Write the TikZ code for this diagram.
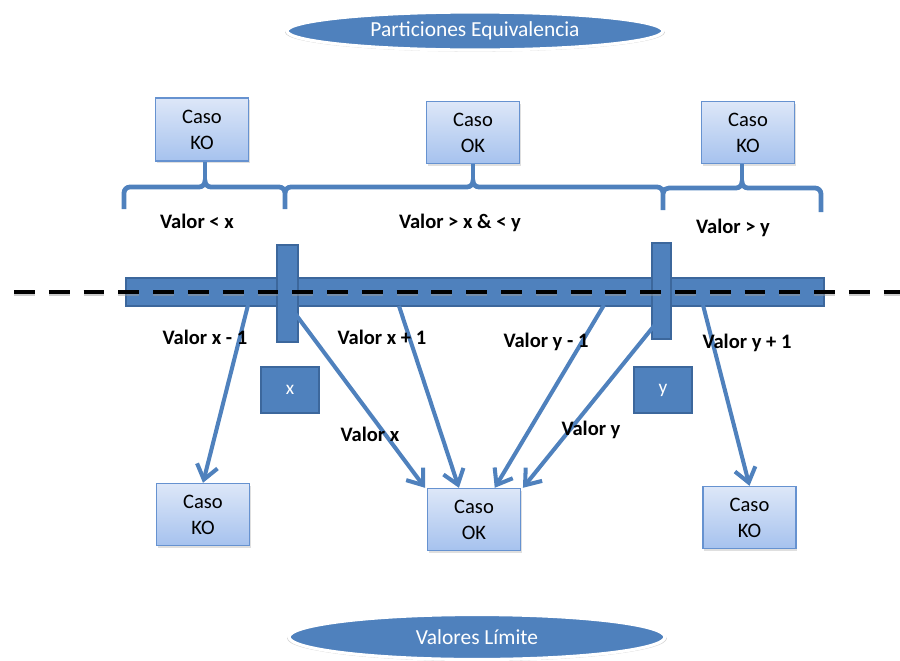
\documentclass[tikz,border=0pt]{standalone}
\usepackage{fontspec}
\setmainfont{Carlito}
\usetikzlibrary{arrows.meta,shapes.geometric,shadows,calc}
\definecolor{accent}{HTML}{4F81BD}
\definecolor{accentdark}{HTML}{3C679C}
\definecolor{boxtop}{HTML}{DDE7F8}
\definecolor{boxbot}{HTML}{A6C2EE}
\definecolor{boxline}{HTML}{6692D0}

\begin{document}
\begin{tikzpicture}[x=0.02cm,y=-0.02cm,
  casebox/.style={draw=boxline, line width=0.8pt, top color=boxtop, bottom color=boxbot,
    minimum width=1.86cm, minimum height=1.24cm, inner sep=0pt, align=center,
    font=\fontsize{11.7}{14.7}\selectfont,
    drop shadow={opacity=0.25, shadow xshift=0.8pt, shadow yshift=-1.2pt}},
  titleoval/.style={ellipse, fill=accent, draw=white, line width=1.8pt, inner sep=0pt,
    minimum width=7.52cm, text=white, font=\fontsize{12.2}{14}\selectfont,
    drop shadow={opacity=0.35, shadow xshift=0pt, shadow yshift=-0.8pt, shadow scale=1.01}},
  bar/.style={fill=accent, draw=accentdark, line width=0.9pt, inner sep=0pt},
  markbox/.style={fill=accent, draw=accentdark, line width=0.9pt, inner sep=0pt,
    minimum width=1.16cm, minimum height=0.92cm, text=white, font=\fontsize{11}{13}\selectfont},
  tag/.style={font=\fontsize{11.7}{14}\selectfont\bfseries, inner sep=0pt},
  partline/.style={draw=accent, line width=2.7pt},
  link/.style={draw=accent, line width=2.3pt, -{Straight Barb[length=8pt,width=12pt]}}
]
\useasboundingbox (0,0) rectangle (900,660);

% headline ovals
\node[titleoval, minimum height=0.76cm] (top) at (475,31) {Particiones Equivalencia};
\node[titleoval, minimum height=0.9cm] (bottom) at (477,637) {Valores Límite};

% equivalence classes
\node[casebox, minimum height=1.26cm] (koTL) at (202,129.5) {Caso\\KO};
\node[casebox] (okT) at (473,132.5) {Caso\\OK};
\node[casebox] (koTR) at (748,132.5) {Caso\\KO};

% braces under the classes
\coordinate (tipL) at (205,181);
\coordinate (tipM) at (473,181);
\coordinate (tipR) at (742,182);
\draw[partline] (124,209) -- (124,193) to[out=90,in=180] (130,187) -- (199,187)
  to[out=0,in=-90] (tipL) to[out=-90,in=180] (211,187) -- (279,187)
  to[out=0,in=90] (285,193) -- (285,209);
\draw[partline] (tipL) -- (tipL |- koTL.south);
\draw[partline] (285,193) to[out=90,in=180] (291,187) -- (467,187)
  to[out=0,in=-90] (tipM) to[out=-90,in=180] (479,187) -- (657,187)
  to[out=0,in=90] (663,193) -- (663,210);
\draw[partline] (tipM) -- (tipM |- okT.south);
\draw[partline] (663,193) to[out=90,in=180] (669,188) -- (736,188)
  to[out=0,in=-90] (tipR) to[out=-90,in=180] (748,188) -- (815,188)
  to[out=0,in=90] (821,194) -- (821,212);
\draw[partline] (tipR) -- (tipR |- koTR.south);

\node[tag] (lt) at (197,221) {Valor < x};
\node[tag] (mid) at (460,223) {Valor > x \& < y};
\node[tag] (gt) at (733,228) {Valor > y};

% value axis with the two limits
\node[bar, minimum width=13.96cm, minimum height=0.56cm] (axis) at (475,292) {};
\node[bar, minimum width=0.42cm, minimum height=1.94cm] (xbar) at (287.5,293.5) {};
\node[bar, minimum width=0.38cm, minimum height=1.92cm] (ybar) at (661.5,291) {};

\node[markbox] (xv) at (290,390) {x};
\node[markbox] (yv) at (663,390) {y};

% boundary cases
\node[casebox] (koBL) at (203,514.5) {Caso\\KO};
\node[casebox] (okB) at (474,519.5) {Caso\\OK};
\node[casebox] (koBR) at (749.5,517.5) {Caso\\KO};

\coordinate (s1) at (248,305);
\coordinate (s2) at (285,300);
\coordinate (s3) at (399,306);
\coordinate (s4) at (604,305);
\coordinate (s5) at (662,316);
\coordinate (s6) at (703,305);

\draw[link] (s1) -- (koBL.north);
\draw[link] (s2) -- ([xshift=-1pt]okB.north west);
\draw[link] (s3) -- ($(okB.north west)!0.34!(okB.north east)$);
\draw[link] (s4) -- ($(okB.north west)!0.72!(okB.north east)$);
\draw[link] (s5) -- ([xshift=1pt]okB.north east);
\draw[link] (s6) -- (koBR.north);

% dashed reference line across the axis
\coordinate (dl) at (14,292);
\coordinate (dr) at (900,292);
\draw[black!40, opacity=0.5, line width=3.6pt, dash pattern=on 11.9pt off 7.9pt]
  ([yshift=-0.6pt]dl) -- ([yshift=-0.6pt]dr);
\draw[black, line width=2.8pt, dash pattern=on 11.9pt off 7.9pt] (dl) -- (dr);

\node[tag] (xm1) at (205,337) {Valor x - 1};
\node[tag] (xp1) at (382,337) {Valor x + 1};
\node[tag] (ym1) at (546,342) {Valor y - 1};
\node[tag] (yp1) at (747,343) {Valor y + 1};
\node[tag] (xeq) at (370,434) {Valor x};
\node[tag] (yeq) at (591,430) {Valor y};
\end{tikzpicture}
\end{document}
